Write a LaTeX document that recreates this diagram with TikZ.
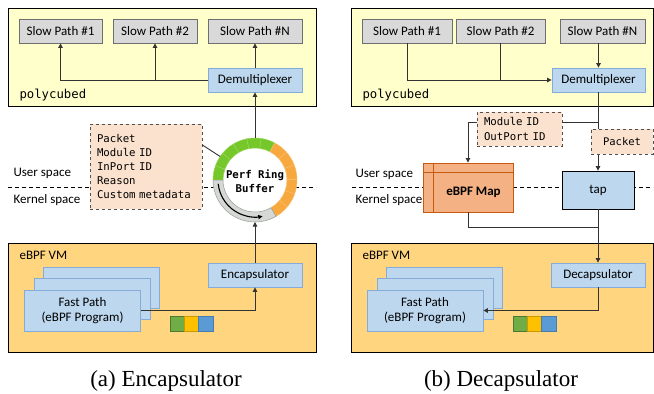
\documentclass[tikz,border=0pt]{standalone}
\usepackage{fontspec}
\setmainfont{Carlito}
\setmonofont{DejaVu Sans Mono}
\newfontfamily\capfont{Liberation Serif}
\usetikzlibrary{arrows.meta,calc}
\definecolor{polyY}{HTML}{FFFFCC}
\definecolor{vmY}{HTML}{FFD580}
\definecolor{slowF}{HTML}{D9D9D9}
\definecolor{slowD}{HTML}{6E6E6E}
\definecolor{blueF}{HTML}{BDD7EE}
\definecolor{blueD}{HTML}{85ABD8}
\definecolor{metaF}{HTML}{FBE2CF}
\definecolor{metaD}{HTML}{505050}
\definecolor{mapF}{HTML}{F4B183}
\definecolor{mapD}{HTML}{C55A11}
\definecolor{lineC}{HTML}{333333}
\definecolor{ringG}{HTML}{76C72A}
\definecolor{ringGd}{HTML}{96D65A}
\definecolor{ringO}{HTML}{F7A83E}
\definecolor{ringOd}{HTML}{F9BD6C}
\definecolor{ringS}{HTML}{D5D8D5}
\definecolor{ringSd}{HTML}{9A9A9A}
\definecolor{sqG}{HTML}{70AD47}
\definecolor{sqY}{HTML}{FFC000}
\definecolor{sqB}{HTML}{5B9BD5}
\newcommand\ringsector[4]{%
  \draw[fill=#3, draw=#4, line width=0.5pt] ($(ring)+(#1:42pt)$) arc[start angle=#1, end angle=#2, radius=42pt]
    -- ($(ring)+(#2:32pt)$) arc[start angle=#2, end angle=#1, radius=32pt] -- cycle;}
\begin{document}
\begin{tikzpicture}[x=1pt,y=1pt, font=\fontsize{13}{15}\selectfont,
  arr/.style={draw=lineC, line width=0.9pt, -{Triangle[length=4.5pt,width=4.5pt]}},
  ln/.style={draw=lineC, line width=0.9pt},
  panel/.style={draw=black, line width=0.8pt},
  sepline/.style={draw=black, line width=0.7pt, dash pattern=on 4pt off 3pt},
  boxbase/.style={minimum height=24pt, inner sep=0pt, line width=0.8pt},
  slowbox/.style={boxbase, fill=slowF, draw=slowD},
  bluebox/.style={boxbase, fill=blueF, draw=blueD},
  fastbox/.style={boxbase, fill=blueF, draw=blueD, minimum width=116pt, minimum height=41pt, align=center},
  metabox/.style={dashed, fill=metaF, draw=metaD, line width=0.8pt, align=left,
    font=\ttfamily\fontsize{10.7}{14.2}\selectfont},
  mono/.style={font=\ttfamily\fontsize{12.3}{14}\selectfont},
  lbl/.style={anchor=base west},
  sqbox/.style={minimum width=14.3pt, minimum height=15pt, inner sep=0pt, line width=0.4pt},
  captext/.style={font=\capfont\fontsize{23}{26}\selectfont, anchor=base}
]
\useasboundingbox (0,0) rectangle (654,-394);

% ================= LEFT PANEL (a) =================
\draw[panel, fill=polyY] (8,-8) rectangle (316,-106);
\draw[panel, fill=vmY] (8,-243) rectangle (316,-352);
\draw[sepline] (8,-187) -- (316,-187);

\node[slowbox, minimum width=83pt] (sp1A) at (60.5,-31) {Slow Path \#1};
\node[slowbox, minimum width=84pt] (sp2A) at (155,-31) {Slow Path \#2};
\node[slowbox, minimum width=94pt] (spNA) at (255,-31) {Slow Path \#N};
\node[bluebox, minimum width=94pt] (demuxA) at (255,-80) {Demultiplexer};
\node[mono, lbl] (polyA) at (16,-98) {polycubed};

\draw[arr] (demuxA.west) -| (sp1A.south);
\draw[arr] (sp2A.south |- demuxA.west) -- (sp2A.south);
\draw[arr] (demuxA.north) -- (spNA.south);

\node[lbl] (userA) at (10,-176) {User space};
\node[lbl] (kernA) at (10,-203.5) {Kernel space};

\node[metabox, text width=98pt, minimum width=112pt, minimum height=85pt, inner xsep=7pt] (metaA) at (146,-166.5)
  {Packet\\Module ID\\InPort ID\\Reason\\Custom metadata};

% ring buffer
\coordinate (ring) at (255,-180);
\coordinate (ringT) at (255,-138);
\coordinate (ringB) at (255,-222);
\coordinate (ringNW) at ($(ring)+(146:42pt)$);
\fill[white] (ring) circle[radius=32pt];
\foreach \i in {0,...,5}{%
  \pgfmathsetmacro\sa{62+\i*19.667}\pgfmathsetmacro\sb{\sa+19.667}%
  \ringsector{\sa}{\sb}{ringG}{ringGd}}
\foreach \i in {0,...,5}{%
  \pgfmathsetmacro\sa{-60+\i*20.333}\pgfmathsetmacro\sb{\sa+20.333}%
  \ringsector{\sa}{\sb}{ringO}{ringOd}}
\ringsector{180}{300}{ringS}{ringSd}
\draw[line width=1.1pt, -{Triangle[length=4.5pt,width=4pt]}] ($(ring)+(186:37pt)$) arc[start angle=186, end angle=282, radius=37pt];
\node[font=\ttfamily\bfseries\fontsize{10.7}{14}\selectfont, align=center] (ringtxt) at (255,-181) {Perf Ring\\Buffer};

\draw[ln] ([yshift=21.5pt]metaA.east) -- (ringNW);
\draw[arr] (ringT) -- (demuxA.south);

\node[bluebox, minimum width=94pt] (encA) at (255,-275) {Encapsulator};
\draw[arr] (encA.north) -- (ringB);

\node[fastbox] (fast3A) at (101.5,-287.5) {};
\node[fastbox] (fast2A) at (92.5,-299) {};
\node[fastbox] (fast1A) at (82.5,-310.5) {Fast Path\\(eBPF Program)};
\node[lbl] (vmA) at (16,-259) {eBPF VM};
\draw[arr] (fast1A.east) -| (encA.south);

\node[sqbox, fill=sqG, draw=sqG!70!black] (sq1A) at (177.2,-323.5) {};
\node[sqbox, fill=sqY, draw=sqY!80!black] (sq2A) at (191.5,-323.5) {};
\node[sqbox, fill=sqB, draw=sqB!80!black] (sq3A) at (205.8,-323.5) {};

\node[captext] (capA) at (166,-386) {(a) Encapsulator};

% ================= RIGHT PANEL (b) =================
\draw[panel, fill=polyY] (351,-8) rectangle (653,-106);
\draw[panel, fill=vmY] (351,-243) rectangle (653,-352);
\draw[sepline] (352,-187) -- (653,-187);

\node[slowbox, minimum width=90pt] (sp1B) at (407,-31) {Slow Path \#1};
\node[slowbox, minimum width=89pt] (sp2B) at (500.5,-31) {Slow Path \#2};
\node[slowbox, minimum width=85pt] (spNB) at (602.5,-31) {Slow Path \#N};
\node[bluebox, minimum width=93pt] (demuxB) at (598.5,-80) {Demultiplexer};
\node[mono, lbl] (polyB) at (359,-98) {polycubed};

\draw[arr] (sp1B.south) |- (demuxB.west);
\draw[ln] (sp2B.south) -- (sp2B.south |- demuxB.west);
\draw[arr] (spNB.south -| demuxB.north) -- (demuxB.north);

\node[lbl] (userB) at (352,-177) {User space};
\node[lbl] (kernB) at (352,-203) {Kernel space};

\node[draw=black, line width=0.8pt, fill=blueF, minimum width=72pt, minimum height=38pt, inner sep=0pt] (tapB) at (598,-190) {tap};
\coordinate (brB) at (598,-122);
\coordinate (mergeB) at (598,-227);
\node[bluebox, minimum width=94pt] (decB) at (598,-275) {Decapsulator};

\draw[arr] (demuxB.south -| tapB.north) -- (tapB.north);
\draw[arr] (tapB.south) -- (decB.north);

\node[metabox, text width=71pt, minimum width=85pt, minimum height=34pt, inner xsep=7pt] (modB) at (519.5,-129)
  {Module ID\\OutPort ID};
\node[metabox, minimum width=62pt, minimum height=25pt, inner sep=0pt, align=center,
  font=\ttfamily\fontsize{10.5}{12}\selectfont] (pktB) at (622,-141.5) {Packet};

\node[fill=mapF, draw=mapD, line width=0.9pt, minimum width=90pt, minimum height=49pt, inner sep=0pt] (mapB) at (468,-187.5) {};
\draw[mapD, line width=0.9pt] ([yshift=-10pt]mapB.north west) -- ([yshift=-10pt]mapB.north east);
\draw[mapD, line width=0.9pt] ([xshift=11pt]mapB.north west) -- ([xshift=11pt]mapB.south west);
\node[font=\bfseries\fontsize{13}{15}\selectfont] (mapT) at (473.5,-192.5) {eBPF Map};

\draw[ln] (brB) -- (brB -| modB.east);
\draw[arr] (modB.west |- brB) -| (mapB.north);
\draw[ln] (mapB.south) |- (mergeB);

\node[fastbox] (fast3B) at (444.5,-287.5) {};
\node[fastbox] (fast2B) at (435,-299) {};
\node[fastbox] (fast1B) at (425,-310.5) {Fast Path\\(eBPF Program)};
\node[lbl] (vmB) at (359,-259) {eBPF VM};
\draw[arr] (decB.south) |- (fast1B.east);

\node[sqbox, fill=sqG, draw=sqG!70!black] (sq1B) at (520.2,-323.5) {};
\node[sqbox, fill=sqY, draw=sqY!80!black] (sq2B) at (534.5,-323.5) {};
\node[sqbox, fill=sqB, draw=sqB!80!black] (sq3B) at (548.8,-323.5) {};

\node[captext] (capB) at (501,-386) {(b) Decapsulator};
\end{tikzpicture}
\end{document}
